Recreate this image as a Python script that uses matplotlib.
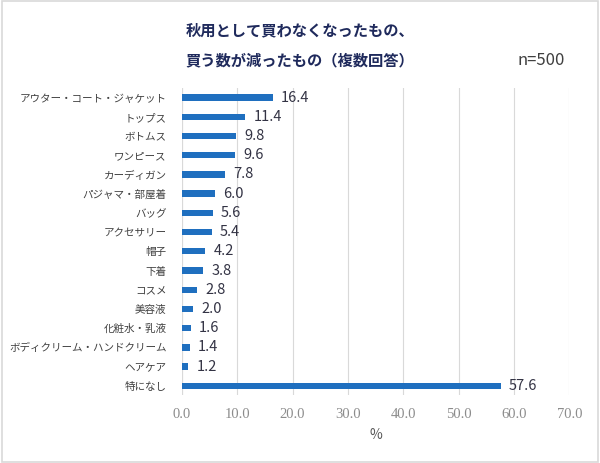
import matplotlib
matplotlib.use("Agg")
import matplotlib.pyplot as plt
from matplotlib.patches import Rectangle

plt.rcParams['font.family'] = ['Noto Sans CJK JP', 'DejaVu Sans']

categories = ["アウター・コート・ジャケット", "トップス", "ボトムス", "ワンピース", "カーディガン",
              "パジャマ・部屋着", "バッグ", "アクセサリー", "帽子", "下着", "コスメ", "美容液",
              "化粧水・乳液", "ボディクリーム・ハンドクリーム", "ヘアケア", "特になし"]
values = [16.4, 11.4, 9.8, 9.6, 7.8, 6.0, 5.6, 5.4, 4.2, 3.8, 2.8, 2.0, 1.6, 1.4, 1.2, 57.6]
xticks = [0, 10, 20, 30, 40, 50, 60, 70]
title_lines = ["秋用として買わなくなったもの、", "買う数が減ったもの（複数回答）"]
note = "n=500"

fig = plt.figure(figsize=(6.0, 4.63), dpi=100)
ax = fig.add_axes([0.303, 0.146, 0.646, 0.664])

ypos = list(range(len(categories)))
ax.barh(ypos, values, height=0.33, color="#1F6FBF")
ax.set_ylim(len(categories) - 0.5, -0.5)
ax.set_xlim(0, 70)
ax.set_xticks(xticks)
ax.set_xticklabels([f"{t:.1f}" for t in xticks], color="#8C8C8C", fontsize=10.5,
                   family=['Liberation Serif', 'DejaVu Serif'])
ax.set_yticks(ypos)
ax.set_yticklabels(categories, fontsize=7.6, color="#404040")
ax.tick_params(axis='both', length=0)
ax.tick_params(axis='x', pad=9)
ax.tick_params(axis='y', pad=11)
ax.grid(axis='x', color="#D9D9D9", linewidth=0.8)
ax.set_axisbelow(True)
for s in ax.spines.values():
    s.set_visible(False)
ax.axvline(0, color="#D0D0D0", linewidth=0.8, zorder=0)

for y, v in zip(ypos, values):
    ax.annotate(f"{v:.1f}", (v, y), xytext=(6, 0), textcoords='offset points',
                va='center', ha='left', fontsize=10.5, color="#333344")

ax.set_xlabel("%", color="#595959", fontsize=10, labelpad=5)

fig.text(0.5, 0.935, title_lines[0], ha='center', va='center',
         fontsize=11, fontweight='bold', color="#1F2A5C")
fig.text(0.5, 0.870, title_lines[1], ha='center', va='center',
         fontsize=11, fontweight='bold', color="#1F2A5C")
fig.text(0.902, 0.870, note, ha='center', va='center', fontsize=12, color="#404040")

fig.patches.append(Rectangle((0.003, 0.003), 0.994, 0.994, transform=fig.transFigure,
                             fill=False, edgecolor="#D9D9D9", linewidth=1.2))

fig.savefig("out.png", dpi=100)
